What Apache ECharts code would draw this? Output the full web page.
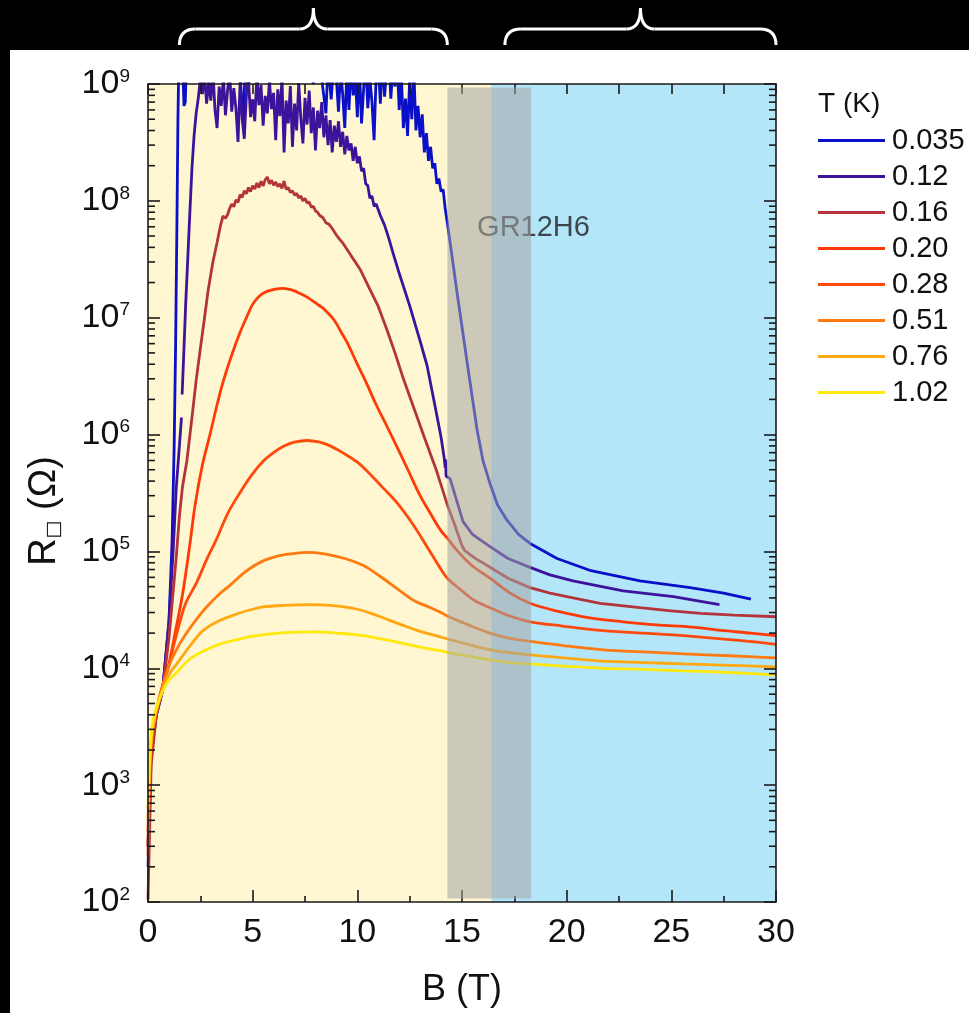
<!DOCTYPE html>
<html>
<head>
<meta charset="utf-8">
<script src="https://cdn.jsdelivr.net/npm/echarts@6/dist/echarts.min.js"></script>
<style>
  html, body { margin: 0; padding: 0; background: #000; width: 969px; height: 1013px; overflow: hidden; }
  #panel { position: absolute; left: 10px; top: 50px; width: 959px; height: 963px; background: #fff; }
  #chart { position: absolute; left: 0; top: 0; width: 969px; height: 1013px; }
</style>
</head>
<body>
<div id="panel"></div>
<div id="chart"></div>
<script>
// Sheet resistance R (ohm) versus magnetic field B (T) for sample GR12H6.
const temperatures = ['0.035', '0.12', '0.16', '0.20', '0.28', '0.51', '0.76', '1.02'];

const r0035 = [
  [0, 300], [0.15, 2000], [0.4, 4000], [0.7, 6500], [1.0, 2.5e4], [1.15, 1.2e5], [1.25, 8e5],
  [1.32, 6e6], [1.38, 6e7], [1.43, 5e8], [1.47, 1.4e9], [1.55, 2.2e9], [1.65, 1.5e9], [1.72, 6.5e8],
  [1.78, 7e8], [1.85, 1.8e9], [1.9, 2.1e9], [2.0, 1.3e9], [2.1, 1.4e9], [2.2, 1.7e9], [2.4, 2.4e9],
  [2.6, 1.2e9], [2.8, 1.2e9], [2.9, 1.9e9], [3.1, 1.1e9], [3.3, 2.6e9], [3.5, 1.4e9], [3.7, 1.3e9],
  [3.8, 2e9], [4.0, 1.3e9], [4.2, 2.3e9], [4.4, 1.2e9], [4.55, 4.6e8], [4.65, 1.5e9], [4.8, 9e8],
  [4.9, 1.8e9], [5.1, 1.2e9], [5.3, 2.5e9], [5.5, 1.05e9], [5.7, 1.9e9], [5.9, 1.3e9], [6.1, 2.2e9],
  [6.3, 1.3e9], [6.5, 2.7e9], [6.7, 1.4e9], [6.9, 1.6e9], [7.1, 1.1e9], [7.3, 2.1e9], [7.5, 1.1e9],
  [7.7, 1.5e9], [7.9, 1.0e9], [8.1, 2.0e9], [8.3, 1.1e9], [8.5, 5.6e8], [8.6, 1.5e9], [8.75, 7.4e8],
  [8.9, 1.7e9], [9.0, 1.1e9], [9.1, 5.8e8], [9.2, 1.3e9], [9.3, 8.2e8], [9.4, 4.2e8], [9.5, 1.3e9],
  [9.6, 6e8], [9.7, 1.5e9], [9.8, 8e8], [9.9, 1.2e9], [10.0, 5.2e8], [10.1, 1.4e9], [10.2, 4.6e8],
  [10.3, 9e8], [10.4, 1.6e9], [10.5, 6.2e8], [10.6, 1.1e9], [10.7, 7e8], [10.8, 3.3e8], [10.9, 1.2e9],
  [11.0, 1.5e9], [11.1, 6.8e8], [11.2, 1.7e9], [11.3, 7.8e8], [11.4, 1.3e9], [11.5, 1.8e9],
  [11.6, 7.5e8], [11.7, 1.4e9], [11.8, 9.5e8], [11.9, 1.6e9], [12.0, 6e8], [12.1, 1.2e9],
  [12.2, 4.2e8], [12.3, 7.5e8], [12.4, 3.6e8], [12.5, 1.1e9], [12.6, 5e8], [12.7, 1.3e9], [12.8, 4e8],
  [12.9, 6.5e8], [13.0, 3.5e8], [13.1, 5.5e8], [13.2, 2.6e8], [13.3, 3.8e8], [13.4, 2.2e8],
  [13.5, 2.9e8], [13.6, 1.9e8], [13.7, 2.1e8], [13.8, 1.4e8], [13.9, 1.55e8], [14.0, 1.2e8],
  [14.1, 1.25e8], [14.2, 8.5e7], [14.3, 6.5e7], [14.76, 1.66e7], [15.24, 4.2e6], [15.72, 1.1e6],
  [16.0, 6e5], [16.34, 3.8e5], [16.7, 2.5e5], [17.15, 1.85e5], [17.7, 1.4e5], [18.25, 1.17e5],
  [19.54, 8.7e4], [21.1, 6.9e4], [23.5, 5.6e4], [25.9, 4.9e4], [27.5, 4.4e4], [28.8, 3.9e4]
];

const r012 = [
  [0, 200], [0.15, 1800], [0.4, 4000], [0.7, 6500], [1.0, 2.5e4], [1.2, 1e5], [1.35, 3.5e5],
  [1.5, 8e5], [1.6, 1.4e6], [1.61, '-'], [1.63, 2.2e6], [1.7, 4.5e6], [1.8, 1.3e7], [1.9, 3.2e7],
  [2.0, 8e7], [2.1, 1.9e8], [2.2, 3.6e8], [2.3, 5.6e8],
  [2.4, 7.5e8], [2.5, 1.1e9], [2.6, 8.2e8], [2.7, 1.2e9], [2.8, 6.8e8], [2.9, 1.05e9], [3.0, 7.2e8],
  [3.1, 1.3e9], [3.2, 6.0e8], [3.3, 4.2e8], [3.4, 9.5e8], [3.5, 6.5e8], [3.6, 1.15e9], [3.7, 5.4e8],
  [3.8, 8.8e8], [3.9, 1.25e9], [4.0, 5.8e8], [4.1, 9.2e8], [4.2, 6.2e8], [4.3, 3.2e8], [4.4, 1.05e9],
  [4.5, 5.0e8], [4.6, 3.4e8], [4.7, 8.0e8], [4.8, 1.1e9], [4.9, 5.2e8], [5.0, 7.4e8], [5.1, 4.8e8],
  [5.2, 1.2e9], [5.3, 6.6e8], [5.4, 9.8e8], [5.5, 4.4e8], [5.6, 7.9e8], [5.7, 5.6e8], [5.8, 1.08e9],
  [5.9, 6.1e8], [6.0, 8.4e8], [6.1, 3.3e8], [6.2, 9.0e8], [6.3, 5.3e8], [6.4, 1.12e9], [6.5, 2.6e8],
  [6.6, 7.2e8], [6.7, 4.6e8], [6.8, 9.6e8], [6.9, 2.9e8], [7.0, 6.8e8], [7.1, 4.0e8], [7.2, 1.02e9],
  [7.3, 5.1e8], [7.4, 3.1e8], [7.5, 7.6e8], [7.6, 4.5e8], [7.7, 8.8e8], [7.8, 3.8e8], [7.9, 6.3e8],
  [8.0, 2.7e8], [8.1, 5.9e8], [8.2, 4.2e8], [8.3, 7.0e8], [8.4, 3.5e8], [8.5, 5.4e8], [8.6, 3.0e8],
  [8.7, 4.9e8], [8.8, 2.6e8], [8.9, 4.4e8], [9.0, 3.2e8], [9.1, 4.8e8], [9.2, 2.9e8], [9.3, 3.9e8],
  [9.4, 2.5e8], [9.5, 3.6e8], [9.6, 2.7e8], [9.7, 3.1e8], [9.8, 2.2e8], [9.9, 2.9e8], [10.0, 2.1e8],
  [10.1, 2.4e8], [10.2, 1.8e8], [10.3, 1.9e8], [10.4, 1.4e8], [10.5, 1.35e8], [10.6, 1.05e8],
  [10.7, 1.1e8], [10.8, 9.0e7], [10.9, 9.4e7], [11.1, 7.5e7], [11.3, 6.2e7], [11.5, 4.8e7],
  [11.7, 3.6e7], [12.0, 2.4e7], [12.5, 1.27e7], [13.0, 6.3e6], [13.33, 3.9e6], [13.7, 1.8e6],
  [14.0, 9.5e5], [14.15, 6.3e5], [14.2, 5.2e5], [14.22, 6.1e5], [14.24, 4.4e5], [14.43, 4.2e5],
  [15.05, 1.8e5], [15.5, 1.4e5], [16.34, 1.1e5], [17.2, 8.7e4], [18.25, 7.3e4], [19.2, 6.3e4],
  [20.3, 5.6e4], [22.7, 4.6e4], [25.1, 4.1e4], [27.3, 3.5e4]
];

const r016 = [
  [0, 105], [0.15, 1500], [0.4, 4000], [0.7, 6500], [1.0, 1.8e4], [1.2, 4.5e4], [1.35, 9e4],
  [1.5, 2e5], [1.65, 3.6e5], [1.86, 6e5], [2.1, 1.4e6], [2.3, 2.9e6], [2.48, 5.1e6], [2.7, 1.0e7],
  [2.87, 1.7e7], [3.1, 3e7], [3.3, 4.4e7], [3.45, 6e7], [3.58, 7.4e7], [3.7, 7.1e7], [3.8, 7.6e7],
  [3.9, 8.6e7], [4.0, 9.4e7], [4.1, 8.9e7], [4.2, 1.02e8], [4.3, 9.7e7], [4.4, 1.13e8], [4.5, 1.07e8],
  [4.6, 1.22e8], [4.7, 1.15e8], [4.8, 1.3e8], [4.9, 1.2e8], [5.0, 1.35e8], [5.1, 1.26e8],
  [5.2, 1.42e8], [5.3, 1.3e8], [5.4, 1.47e8], [5.5, 1.34e8], [5.6, 1.52e8], [5.7, 1.6e8],
  [5.8, 1.4e8], [5.9, 1.5e8], [6.0, 1.36e8], [6.1, 1.45e8], [6.2, 1.32e8], [6.3, 1.4e8],
  [6.4, 1.28e8], [6.5, 1.48e8], [6.6, 1.25e8], [6.7, 1.3e8], [6.8, 1.18e8], [6.9, 1.22e8],
  [7.0, 1.12e8], [7.1, 1.16e8], [7.2, 1.06e8], [7.3, 1.1e8], [7.4, 1.0e8], [7.5, 1.05e8],
  [7.6, 9.6e7], [7.7, 9.8e7], [7.8, 8.8e7], [7.9, 9.0e7], [8.0, 8.2e7], [8.1, 8.0e7], [8.2, 7.5e7],
  [8.35, 7.2e7], [8.5, 6.5e7], [8.65, 6.3e7], [8.8, 5.8e7], [9.0, 5.1e7], [9.15, 4.7e7],
  [9.33, 4.3e7], [9.7, 3.4e7], [10.13, 2.6e7], [10.6, 1.75e7], [11.0, 1.25e7], [11.4, 8e6],
  [11.8, 5e6], [12.2, 3e6], [12.67, 1.75e6], [13.2, 9.5e5], [13.8, 4.8e5], [14.3, 2.5e5],
  [14.7, 1.6e5], [15.0, 1.12e5], [15.05, 1.14e5], [15.12, 1.02e5], [15.6, 8.8e4], [16.3, 7.4e4],
  [17.2, 5.9e4], [18.25, 4.9e4], [19.2, 4.4e4], [20.3, 4.0e4], [21.6, 3.6e4], [23.5, 3.3e4],
  [25.0, 3.1e4], [26.4, 2.95e4], [28.0, 2.85e4], [30, 2.76e4]
];

const r020 = [
  [0, 250], [0.15, 2000], [0.4, 4200], [0.7, 7000], [1.0, 1.1e4], [1.34, 2.2e4], [1.67, 4.5e4],
  [2.0, 1.15e5], [2.25, 2.5e5], [2.6, 5.5e5], [2.96, 1.0e6], [3.3, 1.8e6], [3.58, 2.8e6],
  [4.0, 4.8e6], [4.4, 7.5e6], [4.7, 1.0e7], [5.02, 1.32e7], [5.35, 1.55e7], [5.69, 1.68e7],
  [6.1, 1.76e7], [6.45, 1.78e7], [6.9, 1.72e7], [7.3, 1.6e7], [7.6, 1.5e7], [8.1, 1.3e7],
  [8.3, 1.23e7], [8.55, 1.12e7], [8.8, 1.0e7], [9.0, 8.9e6], [9.25, 7.4e6], [9.5, 6.2e6],
  [10.0, 4.0e6], [10.46, 2.7e6], [10.9, 1.8e6], [11.4, 1.19e6], [11.9, 7.8e5], [12.37, 5.2e5],
  [13.0, 3.0e5], [13.5, 2.1e5], [14.0, 1.5e5], [14.3, 1.3e5], [14.8, 1.0e5], [15.5, 7.5e4],
  [16.34, 5.9e4], [17.3, 4.4e4], [18.25, 3.6e4], [19.5, 3.1e4], [21.1, 2.7e4], [22.7, 2.5e4],
  [24.3, 2.35e4], [26.0, 2.25e4], [27.5, 2.1e4], [28.8, 2.0e4], [30, 1.9e4]
];

const r028 = [
  [0, 300], [0.15, 2200], [0.4, 4300], [0.7, 7200], [1.0, 1.05e4], [1.2, 1.5e4], [1.5, 2.4e4],
  [1.8, 3.6e4], [2.34, 5.5e4], [2.8, 8.5e4], [3.28, 1.28e5], [3.8, 2.1e5], [4.4, 3.2e5],
  [4.95, 4.5e5], [5.5, 5.9e5], [6.0, 7.0e5], [6.45, 7.9e5], [7.0, 8.6e5], [7.6, 8.9e5],
  [8.2, 8.6e5], [8.7, 8.0e5], [9.3, 7.0e5], [10.0, 5.8e5], [10.6, 4.6e5], [11.23, 3.5e5],
  [11.9, 2.6e5], [12.66, 1.7e5], [13.3, 1.12e5], [14.0, 7.0e4], [14.3, 5.9e4], [15.0, 4.6e4],
  [15.6, 3.8e4], [16.34, 3.3e4], [17.3, 2.8e4], [18.25, 2.5e4], [19.8, 2.3e4], [21.75, 2.1e4],
  [23.7, 2.0e4], [25.6, 1.9e4], [27.5, 1.78e4], [29.0, 1.68e4], [30, 1.6e4]
];

const r051 = [
  [0, 400], [0.15, 2300], [0.4, 4400], [0.7, 7000], [1.0, 1.05e4], [1.5, 1.6e4], [2.0, 2.2e4],
  [2.5, 2.9e4], [2.9, 3.5e4], [3.4, 4.3e4], [3.9, 5.1e4], [4.7, 6.8e4], [5.5, 8.3e4], [6.4, 9.3e4],
  [7.2, 9.7e4], [7.7, 9.8e4], [8.5, 9.5e4], [9.4, 8.7e4], [10.27, 7.6e4], [11.1, 6.1e4],
  [11.9, 4.8e4], [12.7, 3.8e4], [13.5, 3.3e4], [14.0, 3.0e4], [14.3, 2.8e4], [15.3, 2.35e4],
  [16.34, 2.0e4], [17.3, 1.8e4], [18.25, 1.7e4], [20.0, 1.55e4], [21.75, 1.44e4], [23.7, 1.38e4],
  [25.6, 1.33e4], [27.8, 1.28e4], [30, 1.23e4]
];

const r076 = [
  [0, 500], [0.15, 2400], [0.4, 4300], [0.7, 6600], [1.0, 8.8e3], [1.34, 1.07e4], [2.0, 1.55e4],
  [2.63, 2.1e4], [3.4, 2.55e4], [4.2, 2.9e4], [5.0, 3.2e4], [5.5, 3.35e4], [6.5, 3.45e4],
  [7.7, 3.5e4], [8.7, 3.45e4], [10.0, 3.2e4], [11.0, 2.8e4], [12.0, 2.4e4], [13.0, 2.07e4],
  [14.0, 1.85e4], [14.3, 1.78e4], [15.3, 1.6e4], [16.34, 1.44e4], [17.3, 1.36e4], [18.25, 1.3e4],
  [20.0, 1.22e4], [21.75, 1.15e4], [23.7, 1.12e4], [25.6, 1.09e4], [27.8, 1.06e4], [30, 1.03e4]
];

const r102 = [
  [0, 640], [0.15, 2600], [0.3, 4000], [0.7, 6400], [1.0, 7.9e3], [1.34, 9.1e3], [2.0, 1.2e4],
  [2.63, 1.4e4], [3.4, 1.6e4], [4.2, 1.75e4], [5.0, 1.88e4], [6.0, 1.98e4], [7.1, 2.04e4],
  [8.1, 2.05e4], [9.0, 2.0e4], [10.0, 1.93e4], [11.0, 1.8e4], [12.0, 1.66e4], [13.0, 1.52e4],
  [14.0, 1.41e4], [14.3, 1.37e4], [15.3, 1.27e4], [16.34, 1.18e4], [17.3, 1.12e4], [18.25, 1.09e4],
  [20.0, 1.04e4], [21.75, 1.0e4], [23.7, 9.8e3], [25.6, 9.5e3], [27.8, 9.2e3], [30, 8.8e3]
];

const curves = [r0035, r012, r016, r020, r028, r051, r076, r102];
const noisy = [true, true, true, false, false, false, false, false];

// Axis ranges and tick labels
const B_RANGE = [0, 30];
const R_RANGE = [1e2, 1e9];
const xTickLabels = ['0', '5', '10', '15', '20', '25', '30'];
const yDecadeExponents = [2, 3, 4, 5, 6, 7, 8, 9];
const yMinorMultipliers = [2, 3, 4, 5, 6, 7, 8, 9];

// Field regions: low-field (cream), high-field (blue), and the shaded crossover band
const zones = [[0, 16.4], [16.4, 30]];
const crossoverBand = [[14.3, 18.3]];
const bandRExtent = [1.07e2, 9.35e8];
const braceRanges = [[1.5, 14.3], [17.05, 30]];
const sampleLabel = { text: 'GR12H6', at: [15.72, 5.9e7] };

const colors = ['#0a10c8', '#3d139c', '#b3343a', '#ff3a06', '#ff4a0c', '#ff7a10', '#ffa812', '#ffe80c'];
const zoneFills = ['#fff6d2', '#b4e6fa'];
const FONT = '"Liberation Sans", Arial, "DejaVu Sans", sans-serif';
const AXIS = '#1a1a1a';

const yMinorTicks = [];
yDecadeExponents.slice(0, -1).forEach(e => {
  yMinorMultipliers.forEach(m => yMinorTicks.push(m * Math.pow(10, e)));
});

const chart = echarts.init(document.getElementById('chart'), null, { renderer: 'canvas' });

const lineSeries = temperatures.map((t, i) => ({
  name: t,
  type: 'line',
  data: curves[i],
  color: colors[i],
  showSymbol: false,
  smooth: noisy[i] ? false : 0.35,
  clip: true,
  z: 2,
  lineStyle: { width: 2.8, color: colors[i] },
  emphasis: { disabled: true }
}));

const rectRenderer = (fills) => (params, api) => {
  const p0 = api.coord([api.value(0), api.value(3)]);
  const p1 = api.coord([api.value(1), api.value(2)]);
  return {
    type: 'rect',
    shape: { x: p0[0], y: p0[1], width: p1[0] - p0[0], height: p1[1] - p0[1] },
    style: { fill: fills[params.dataIndex % fills.length] }
  };
};

const option = {
  animation: false,
  backgroundColor: 'transparent',
  textStyle: { fontFamily: FONT },
  grid: { left: 148, right: 193, top: 84, bottom: 108 },
  title: {
    text: 'T (K)', left: 818, top: 90, padding: 0,
    textStyle: { fontSize: 28, fontWeight: 'normal', color: '#111', fontFamily: FONT }
  },
  legend: {
    data: temperatures, orient: 'vertical', left: 818, top: 126,
    itemWidth: 67, itemHeight: 3, itemGap: 7, icon: 'rect', padding: 0,
    textStyle: { fontSize: 29, lineHeight: 29, color: '#111', fontFamily: FONT, padding: [0, 0, 0, 2] }
  },
  xAxis: [{
    type: 'value', position: 'bottom', min: B_RANGE[0], max: B_RANGE[1], interval: 5, z: 4,
    name: 'B (T)', nameLocation: 'middle', nameGap: 70,
    nameTextStyle: { fontSize: 36, color: '#111', fontFamily: FONT },
    axisLine: { show: true, onZero: false, lineStyle: { color: AXIS, width: 1.6 } },
    axisTick: { show: true, inside: true, length: 12, lineStyle: { color: AXIS, width: 1.6 } },
    minorTick: { show: true, splitNumber: 2, length: 6, lineStyle: { color: AXIS, width: 1.6 } },
    splitLine: { show: false },
    axisLabel: {
      margin: 14, fontSize: 34, color: '#111', fontFamily: FONT,
      formatter: v => xTickLabels[Math.round(v / 5)] ?? ''
    }
  }, {
    type: 'value', position: 'top', min: B_RANGE[0], max: B_RANGE[1], interval: 2.5, z: 4,
    axisLine: { show: true, onZero: false, lineStyle: { color: AXIS, width: 1.6 } },
    axisTick: { show: true, inside: true, length: 10, lineStyle: { color: AXIS, width: 1.6 } },
    splitLine: { show: false }, axisLabel: { show: false }
  }],
  yAxis: [{
    type: 'log', logBase: 10, position: 'left', min: R_RANGE[0], max: R_RANGE[1], splitNumber: 7, z: 4,
    name: '{r|R}{sq|□}{r| (Ω)}', nameLocation: 'middle', nameGap: 84, nameRotate: 90,
    nameTextStyle: {
      color: '#111', padding: [0, 36, 0, 0],
      rich: {
        r: { fontSize: 38, fontFamily: FONT, color: '#111' },
        sq: { fontSize: 19, lineHeight: 12, verticalAlign: 'bottom', fontFamily: '"DejaVu Sans", sans-serif', color: '#111' }
      }
    },
    axisLine: { show: true, onZero: false, lineStyle: { color: AXIS, width: 1.6 } },
    axisTick: { show: true, inside: true, length: 12, lineStyle: { color: AXIS, width: 1.6 } },
    splitLine: { show: false },
    axisLabel: {
      margin: 18, color: '#111',
      formatter: v => '{b|10}{s|' + yDecadeExponents[Math.round(Math.log10(v)) - 2] + '}',
      rich: {
        b: { fontSize: 34, lineHeight: 34, fontFamily: FONT, color: '#111' },
        s: { fontSize: 19, lineHeight: 16, verticalAlign: 'top', fontFamily: FONT, color: '#111' }
      }
    }
  }, {
    type: 'log', logBase: 10, position: 'right', min: R_RANGE[0], max: R_RANGE[1], splitNumber: 7, z: 4,
    axisLine: { show: true, onZero: false, lineStyle: { color: AXIS, width: 1.6 } },
    axisTick: { show: true, inside: true, length: 12, lineStyle: { color: AXIS, width: 1.6 } },
    splitLine: { show: false }, axisLabel: { show: false }
  }],
  series: [
    {
      name: 'zones', type: 'custom', z: 1, silent: true, clip: true,
      data: zones.map(z => [z[0], z[1], R_RANGE[0], R_RANGE[1]]),
      encode: { x: [0, 1], y: [2, 3] },
      renderItem: rectRenderer(zoneFills)
    },
    ...lineSeries,
    {
      name: 'sample', type: 'scatter', z: 2, silent: true, symbolSize: 0,
      data: [sampleLabel.at],
      label: {
        show: true, position: 'right', distance: 0, formatter: sampleLabel.text,
        fontSize: 29, color: '#1e1e1e', fontFamily: FONT
      }
    },
    {
      name: 'minorTicks', type: 'custom', z: 4, silent: true, clip: false,
      data: yMinorTicks.map(v => [B_RANGE[0], v]),
      encode: { x: 0, y: 1 },
      renderItem: (params, api) => {
        const v = api.value(1);
        const l = api.coord([B_RANGE[0], v]);
        const r = api.coord([B_RANGE[1], v]);
        const st = { stroke: AXIS, lineWidth: 1.6 };
        return {
          type: 'group', children: [
            { type: 'line', shape: { x1: l[0], y1: l[1], x2: l[0] + 7, y2: l[1] }, style: st },
            { type: 'line', shape: { x1: r[0], y1: r[1], x2: r[0] - 7, y2: r[1] }, style: st }
          ]
        };
      }
    },
    {
      name: 'crossover', type: 'custom', z: 5, silent: true, clip: true,
      data: crossoverBand.map(b => [b[0], b[1], bandRExtent[0], bandRExtent[1]]),
      encode: { x: [0, 1], y: [2, 3] },
      renderItem: rectRenderer(['rgba(164,164,164,0.55)'])
    }
  ]
};

chart.setOption(option);

// Curly braces above the plot marking the two field ranges
const braceStyle = { stroke: '#fff', lineWidth: 3, fill: null };
const braceEls = [];
braceRanges.forEach(([b0, b1], i) => {
  const x0 = chart.convertToPixel({ xAxisIndex: 0 }, b0);
  const x1 = chart.convertToPixel({ xAxisIndex: 0 }, b1);
  const xm = (x0 + x1) / 2;
  const yEnd = 45, yBar = 29, yTip = 8, r = 16, rt = 14;
  const parts = [
    { type: 'bezierCurve', shape: { x1: x0, y1: yEnd, x2: x0 + r, y2: yBar, cpx1: x0, cpy1: yBar } },
    { type: 'line', shape: { x1: x0 + r, y1: yBar, x2: xm - rt, y2: yBar } },
    { type: 'bezierCurve', shape: { x1: xm - rt, y1: yBar, x2: xm, y2: yTip, cpx1: xm, cpy1: yBar } },
    { type: 'bezierCurve', shape: { x1: xm, y1: yTip, x2: xm + rt, y2: yBar, cpx1: xm, cpy1: yBar } },
    { type: 'line', shape: { x1: xm + rt, y1: yBar, x2: x1 - r, y2: yBar } },
    { type: 'bezierCurve', shape: { x1: x1 - r, y1: yBar, x2: x1, y2: yEnd, cpx1: x1, cpy1: yBar } }
  ];
  parts.forEach((p, k) => braceEls.push(Object.assign(p, {
    id: 'brace' + i + '_' + k, z: 10, silent: true, style: braceStyle
  })));
});
chart.setOption({ graphic: braceEls });
</script>
</body>
</html>
